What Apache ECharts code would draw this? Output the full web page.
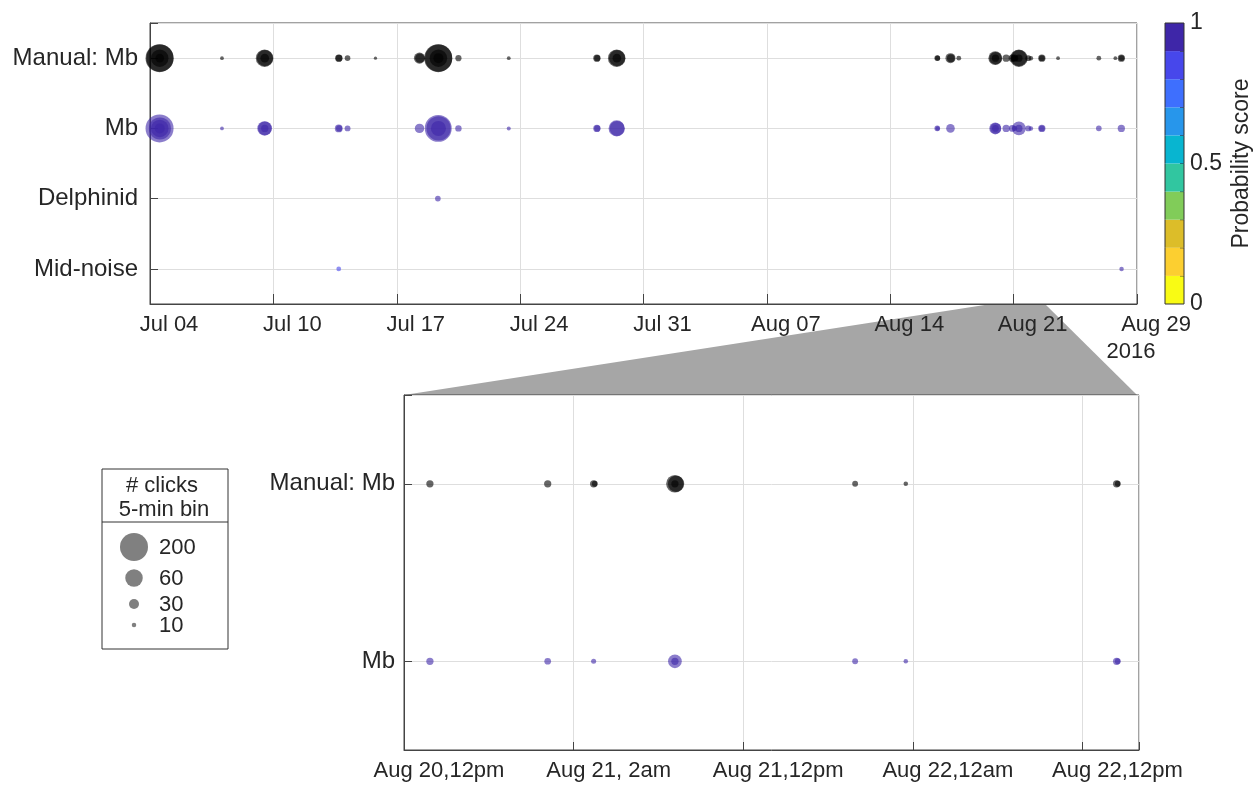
<!DOCTYPE html>
<html>
<head>
<meta charset="utf-8">
<script src="https://cdn.jsdelivr.net/npm/echarts@6/dist/echarts.min.js"></script>
<style>
html,body{margin:0;padding:0;background:#fff;}
#chart{width:1260px;height:787px;}
</style>
</head>
<body>
<div id="chart"></div>
<script>
// rows, top to bottom
const rowNames = ['Manual: Mb', 'Mb', 'Delphinid', 'Mid-noise'];
const zoomRowNames = ['Manual: Mb', 'Mb'];

const overviewTickLabels = ['Jul 04', 'Jul 10', 'Jul 17', 'Jul 24', 'Jul 31', 'Aug 07', 'Aug 14', 'Aug 21', 'Aug 29'];
const zoomTickLabels = ['Aug 20,12pm', 'Aug 21, 2am', 'Aug 21,12pm', 'Aug 22,12am', 'Aug 22,12pm'];

// [time, clicks per 5-min bin] for manual picks, [time, clicks, probability score] for detector rows
const manualMb = [
    ['2016-07-03 13:00', 200], ['2016-07-03 13:30', 190], ['2016-07-03 13:15', 60], ['2016-07-03 13:15', 25],
    ['2016-07-07 02:00', 7],
    ['2016-07-09 12:00', 60], ['2016-07-09 12:30', 55], ['2016-07-09 12:15', 25],
    ['2016-07-13 17:00', 20], ['2016-07-13 17:30', 18],
    ['2016-07-14 05:00', 14],
    ['2016-07-15 19:00', 5],
    ['2016-07-18 07:00', 35], ['2016-07-18 07:30', 28],
    ['2016-07-19 08:30', 200], ['2016-07-19 09:00', 190], ['2016-07-19 08:45', 60], ['2016-07-19 08:45', 30],
    ['2016-07-20 12:00', 16],
    ['2016-07-23 08:30', 7],
    ['2016-07-28 08:30', 20], ['2016-07-28 09:00', 16],
    ['2016-07-29 11:30', 60], ['2016-07-29 12:00', 55], ['2016-07-29 11:45', 25],
    ['2016-08-16 16:00', 14], ['2016-08-16 16:30', 12],
    ['2016-08-17 10:00', 30], ['2016-08-17 10:30', 22],
    ['2016-08-17 21:20', 11],
    ['2016-08-19 23:00', 45], ['2016-08-19 23:30', 40], ['2016-08-19 23:15', 20],
    ['2016-08-23 12:30', 7],
    ['2016-08-25 20:00', 11],
    ['2016-08-26 18:30', 7],
    ['2016-08-27 02:40', 20], ['2016-08-27 03:00', 14]
];
const mbDetections = [
    ['2016-07-03 13:00', 200, 0.92], ['2016-07-03 13:30', 120, 0.95], ['2016-07-03 13:15', 60, 0.96], ['2016-07-03 13:15', 30, 0.96],
    ['2016-07-07 02:00', 7, 0.92],
    ['2016-07-09 12:00', 48, 0.96], ['2016-07-09 12:30', 45, 0.96], ['2016-07-09 12:15', 20, 0.96],
    ['2016-07-13 17:00', 22, 0.95], ['2016-07-13 17:30', 16, 0.95],
    ['2016-07-14 05:00', 15, 0.93],
    ['2016-07-18 07:00', 28, 0.92],
    ['2016-07-19 08:30', 185, 0.93], ['2016-07-19 09:00', 150, 0.95], ['2016-07-19 08:45', 50, 0.96],
    ['2016-07-20 12:00', 17, 0.93],
    ['2016-07-23 08:30', 8, 0.9],
    ['2016-07-28 08:30', 20, 0.95], ['2016-07-28 09:00', 16, 0.95],
    ['2016-07-29 11:30', 55, 0.96], ['2016-07-29 12:00', 50, 0.96],
    ['2016-08-16 16:00', 14, 0.93], ['2016-08-16 16:30', 10, 0.93],
    ['2016-08-17 10:00', 25, 0.92],
    ['2016-08-19 23:00', 38, 0.96], ['2016-08-19 23:30', 33, 0.96], ['2016-08-19 23:15', 18, 0.96],
    ['2016-08-25 20:00', 14, 0.92],
    ['2016-08-27 02:40', 20, 0.92]
];
const delphinidDetections = [['2016-07-19 08:00', 14, 0.95]];
const midNoiseDetections = [['2016-07-13 17:00', 11, 0.85], ['2016-08-27 03:00', 10, 0.93]];

// Aug 20 12pm - Aug 22 4pm, shown in both panels
const zoomManualMb = [
    ['2016-08-20 13:50', 20],
    ['2016-08-20 22:10', 20],
    ['2016-08-21 01:25', 20], ['2016-08-21 01:30', 15],
    ['2016-08-21 07:10', 60], ['2016-08-21 07:15', 55], ['2016-08-21 07:10', 20],
    ['2016-08-21 19:55', 15],
    ['2016-08-21 23:30', 10],
    ['2016-08-22 14:25', 20], ['2016-08-22 14:30', 15]
];
const zoomMb = [
    ['2016-08-20 13:50', 20, 0.93],
    ['2016-08-20 22:10', 18, 0.93],
    ['2016-08-21 01:25', 12, 0.93],
    ['2016-08-21 07:10', 45, 0.92], ['2016-08-21 07:10', 20, 0.95],
    ['2016-08-21 19:55', 15, 0.93],
    ['2016-08-21 23:30', 10, 0.93],
    ['2016-08-22 14:25', 20, 0.95], ['2016-08-22 14:30', 15, 0.95]
];

const legendClicks = [200, 60, 30, 10];
const scoreLevels = [0, 0.1, 0.2, 0.3, 0.4, 0.5, 0.6, 0.7, 0.8, 0.9, 1];

// styling
const parula10 = ['#f9fb14', '#fccf30', '#dcbd29', '#81cc59', '#31c6a0', '#08b5d0', '#2796eb', '#3e6ffe', '#4747eb', '#3e26a8'];
const sizeClicks = [0, 10, 30, 60, 200];
const sizePx = [2, 4.5, 10, 17.5, 28];
const FONT = "'Liberation Sans', Arial, sans-serif";
const TXT = '#262626';
const AX = '#444';
const GRIDC = '#dedede';
const ALPHA = 0.6;

const t = s => Date.parse(s.replace(' ', 'T') + ':00Z');
const DAY = 864e5, HOUR = 36e5;
const xMin = t('2016-07-03 00:00'), xMax = xMin + 56 * DAY;
const zMin = t('2016-08-20 12:00'), zMax = zMin + 52 * HOUR;

function sizeFor(c) {
    for (let i = 1; i < sizeClicks.length; i++) {
        if (c <= sizeClicks[i]) {
            const f = (c - sizeClicks[i - 1]) / (sizeClicks[i] - sizeClicks[i - 1]);
            return sizePx[i - 1] + f * (sizePx[i] - sizePx[i - 1]);
        }
    }
    return sizePx[sizePx.length - 1];
}
const scoreColor = s => parula10[Math.min(9, Math.floor(s * 10))];
const isInt = v => Math.abs(v - Math.round(v)) < 1e-6;

const toPts = (arr, row) => arr.map(d => [t(d[0]), row, d[1], d[2] == null ? 1 : d[2]]);

function scatter(name, data, xi, black) {
    return {
        type: 'scatter', name: name, xAxisIndex: xi, yAxisIndex: xi, data: data,
        symbolSize: v => sizeFor(v[2]),
        itemStyle: {
            opacity: ALPHA,
            color: black ? '#000' : (p => scoreColor(p.data[3]))
        },
        silent: true
    };
}

function rowAxis(names, gi, margin) {
    return {
        type: 'value', gridIndex: gi, inverse: true, min: 0.5, max: names.length + 0.5, splitNumber: names.length,
        axisLine: { show: true, lineStyle: { color: AX } },
        axisTick: { show: true, inside: true, length: 8, lineStyle: { color: AX } },
        axisLabel: {
            margin: margin, color: TXT, fontFamily: FONT, fontSize: 24,
            formatter: v => isInt(v) && names[Math.round(v) - 1] ? names[Math.round(v) - 1] : ''
        },
        splitLine: { show: true, lineStyle: { color: GRIDC } }
    };
}

function timeAxis(gi, min, max, step, labels, shift) {
    return {
        type: 'value', gridIndex: gi, min: min, max: max, interval: step,
        axisLine: { show: true, lineStyle: { color: AX } },
        axisTick: { show: true, inside: true, length: gi === 0 ? 10 : 8, lineStyle: { color: AX } },
        axisLabel: {
            margin: 10, color: TXT, fontFamily: FONT, fontSize: 22, showMinLabel: true, showMaxLabel: true,
            formatter: v => {
                const k = (v - min) / step;
                return isInt(k) && labels[Math.round(k)] ? '{a|' + labels[Math.round(k)] + '}' : '';
            },
            rich: { a: { padding: [0, 0, 0, shift], color: TXT, fontFamily: FONT, fontSize: 22 } }
        },
        splitLine: { show: true, lineStyle: { color: GRIDC } }
    };
}

const legendRowY = [547, 578, 604, 625];
const legendEls = [
    { type: 'rect', shape: { x: 102, y: 469, width: 126, height: 180 }, style: { fill: '#fff', stroke: '#333', lineWidth: 1 } },
    { type: 'line', shape: { x1: 102, y1: 522, x2: 228, y2: 522 }, style: { stroke: '#333', lineWidth: 1 } },
    { type: 'text', style: { text: '# clicks', x: 162, y: 486, align: 'center', verticalAlign: 'middle', font: '22px ' + FONT, fill: TXT } },
    { type: 'text', style: { text: '5-min bin', x: 164, y: 510, align: 'center', verticalAlign: 'middle', font: '22px ' + FONT, fill: TXT } }
];
legendClicks.forEach((c, i) => {
    legendEls.push({ type: 'circle', shape: { cx: 134, cy: legendRowY[i], r: sizeFor(c) / 2 }, style: { fill: '#808080' } });
    legendEls.push({ type: 'text', style: { text: String(c), x: 159, y: legendRowY[i] + 1, align: 'left', verticalAlign: 'middle', font: '22px ' + FONT, fill: TXT } });
});

const chart = echarts.init(document.getElementById('chart'), null, { renderer: 'canvas' });
chart.setOption({
    animation: false,
    backgroundColor: '#fff',
    grid: [
        { left: 150, right: 123, top: 23, height: 281, show: true, borderColor: AX, borderWidth: 1 },
        { left: 404, right: 121, top: 395, height: 355, show: true, borderColor: AX, borderWidth: 1 },
        { left: 1165, width: 19, top: 23, height: 281, show: false }
    ],
    xAxis: [
        timeAxis(0, xMin, xMax, 7 * DAY, overviewTickLabels, 38),
        timeAxis(1, zMin, zMax, 12 * HOUR, zoomTickLabels, 70),
        { type: 'value', gridIndex: 2, min: 0, max: 1, show: false }
    ],
    yAxis: [
        rowAxis(rowNames, 0, 12),
        rowAxis(zoomRowNames, 1, 9),
        {
            type: 'value', gridIndex: 2, position: 'right', min: 0, max: 1, interval: 0.1,
            name: 'Probability score', nameLocation: 'middle', nameRotate: 90, nameGap: 46,
            nameTextStyle: { color: TXT, fontFamily: FONT, fontSize: 23 },
            axisLine: { show: false },
            axisTick: { show: false },
            axisLabel: {
                margin: 6, color: TXT, fontFamily: FONT, fontSize: 23,
                formatter: v => Math.abs(v) < 1e-6 ? '0' : Math.abs(v - 0.5) < 1e-6 ? '0.5' : Math.abs(v - 1) < 1e-6 ? '1' : ''
            },
            splitLine: { show: false }
        }
    ],
    graphic: [
        { type: 'polygon', z: -1, shape: { points: [[991, 304], [1045, 304], [1137, 395], [404, 395]] }, style: { fill: '#a6a6a6' } },
        { type: 'text', style: { text: '2016', x: 1131, y: 352, align: 'center', verticalAlign: 'middle', font: '22px ' + FONT, fill: TXT } },
        { type: 'group', children: legendEls }
    ],
    series: [
        scatter('Manual: Mb', toPts(manualMb.concat(zoomManualMb), 1), 0, true),
        scatter('Mb', toPts(mbDetections.concat(zoomMb), 2), 0, false),
        scatter('Delphinid', toPts(delphinidDetections, 3), 0, false),
        scatter('Mid-noise', toPts(midNoiseDetections, 4), 0, false),
        scatter('Manual: Mb zoom', toPts(zoomManualMb, 1), 1, true),
        scatter('Mb zoom', toPts(zoomMb, 2), 1, false),
        {
            // colour bar: one block per score level, outlined, with a small tick on the right edge
            type: 'custom', xAxisIndex: 2, yAxisIndex: 2, silent: true,
            data: parula10.map((c, i) => [0, scoreLevels[i], 1, scoreLevels[i + 1]]),
            encode: { x: [0, 2], y: [1, 3] },
            renderItem: (params, api) => {
                const p1 = api.coord([api.value(0), api.value(3)]);
                const p2 = api.coord([api.value(2), api.value(1)]);
                const kids = [{
                    type: 'rect',
                    shape: { x: p1[0], y: p1[1], width: p2[0] - p1[0], height: p2[1] - p1[1] },
                    style: { fill: parula10[params.dataIndex] }
                }, {
                    type: 'line',
                    shape: { x1: p1[0], y1: p1[1], x2: p1[0], y2: p2[1] },
                    style: { stroke: '#333', lineWidth: 1 }
                }, {
                    type: 'line',
                    shape: { x1: p2[0], y1: p1[1], x2: p2[0], y2: p2[1] },
                    style: { stroke: '#333', lineWidth: 1 }
                }];
                if (params.dataIndex === 0) {
                    kids.push({ type: 'line', shape: { x1: p1[0], y1: p2[1], x2: p2[0], y2: p2[1] }, style: { stroke: '#333', lineWidth: 1 } });
                }
                if (params.dataIndex === parula10.length - 1) {
                    kids.push({ type: 'line', shape: { x1: p1[0], y1: p1[1], x2: p2[0], y2: p1[1] }, style: { stroke: '#333', lineWidth: 1 } });
                } else {
                    kids.push({ type: 'line', shape: { x1: p2[0] - 4, y1: p1[1], x2: p2[0], y2: p1[1] }, style: { stroke: '#333', lineWidth: 1 } });
                }
                return { type: 'group', children: kids };
            },
            z: 1
        }
    ]
});
</script>
</body>
</html>
